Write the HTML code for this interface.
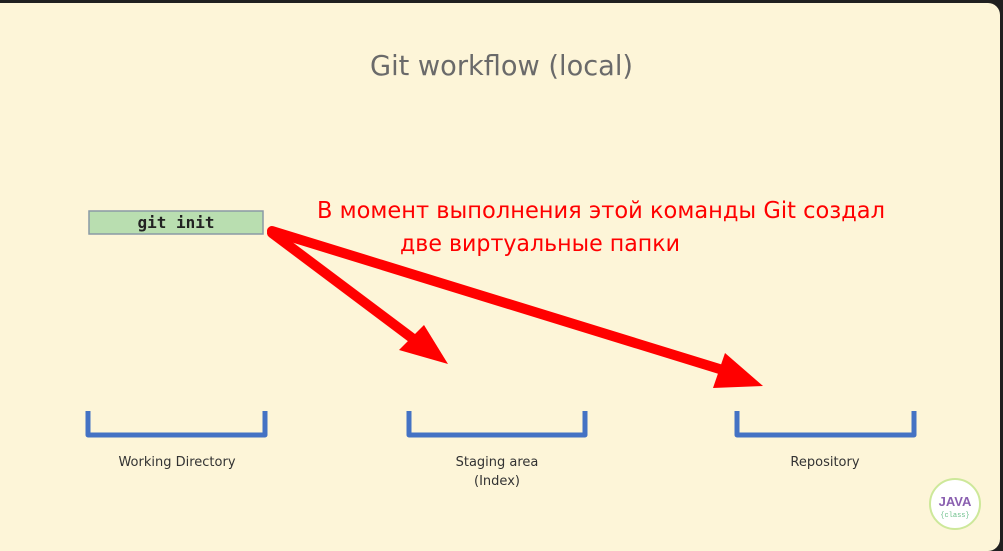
<!DOCTYPE html>
<html><head><meta charset="utf-8"><style>
html,body{margin:0;padding:0;width:1003px;height:551px;overflow:hidden;background:#202020;}
.page{position:absolute;left:0;top:3px;width:1000px;height:548px;background:#fdf5d8;border-top-right-radius:12px;border-bottom-right-radius:12px;}
svg{position:absolute;left:0;top:0}
</style></head><body>
<div class="page"></div>
<svg width="1003" height="551" viewBox="0 0 1003 551">
<text x="370" y="75" textLength="263" lengthAdjust="spacingAndGlyphs" font-family="DejaVu Sans, Liberation Sans, sans-serif" font-size="28" fill="#6a6a6a">Git workflow (local)</text>
<rect x="89" y="211" width="174" height="23" fill="#b9deb0" stroke="#8a9aa6" stroke-width="1.5"/>
<text x="176" y="228" text-anchor="middle" font-family="DejaVu Sans Mono, monospace" font-size="16" font-weight="bold" fill="#222">git init</text>
<text x="317" y="218" textLength="568" lengthAdjust="spacingAndGlyphs" font-family="DejaVu Sans, Liberation Sans, sans-serif" font-size="23" fill="#ff0000">В момент выполнения этой команды Git создал</text>
<text x="400" y="251" textLength="280" lengthAdjust="spacingAndGlyphs" font-family="DejaVu Sans, Liberation Sans, sans-serif" font-size="23" fill="#ff0000">две виртуальные папки</text>
<g stroke="#ff0000" stroke-width="10" stroke-linecap="round" fill="none">
<line x1="272" y1="233" x2="412" y2="338"/>
<line x1="272" y1="231" x2="726" y2="371"/>
</g>
<polygon points="448,364 399,350 424,325" fill="#ff0000"/>
<polygon points="763,386 713,388 725,353" fill="#ff0000"/>
<g stroke="#4472c4" stroke-width="5" fill="none" stroke-linejoin="round">
<path d="M88,411 V435 H265 V411"/>
<path d="M409,411 V435 H585 V411"/>
<path d="M737,411 V435 H914 V411"/>
</g>
<g font-family="DejaVu Sans, Liberation Sans, sans-serif" font-size="13" fill="#333" text-anchor="middle">
<text x="177" y="466">Working Directory</text>
<text x="497" y="466">Staging area</text>
<text x="497" y="485">(Index)</text>
<text x="825" y="466">Repository</text>
</g>
<circle cx="955" cy="504" r="25" fill="#fff" stroke="#cde89a" stroke-width="2"/>
<text x="955" y="506" text-anchor="middle" font-family="Liberation Sans, sans-serif" font-size="13" font-weight="bold" fill="#8a5fb0">JAVA</text>
<text x="955" y="517" text-anchor="middle" font-family="Liberation Mono, monospace" font-size="7" fill="#6cbf8a">{class}</text>
</svg>
</body></html>
